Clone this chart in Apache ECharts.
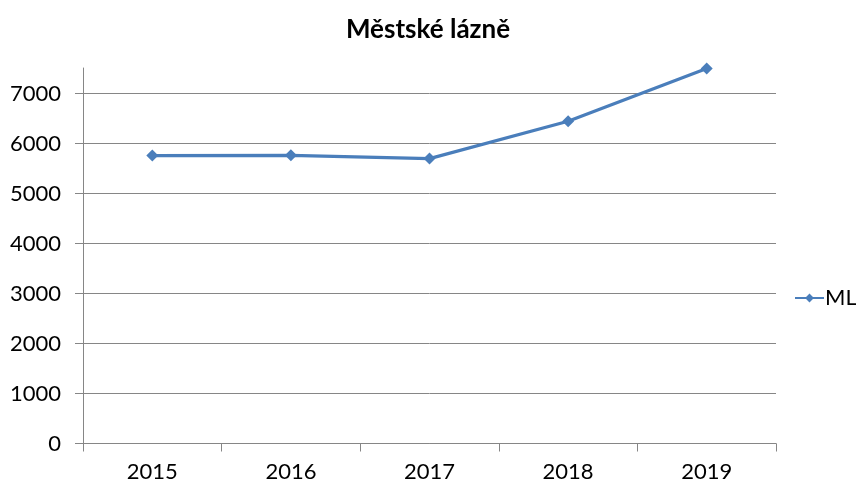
<!DOCTYPE html>
<html><head><meta charset="utf-8">
<script src="https://cdn.jsdelivr.net/npm/echarts@6/dist/echarts.min.js"></script>
<style>html,body{margin:0;padding:0;background:#fff}#c{width:856px;height:488px}</style>
</head><body><div id="c"></div>
<script>
const title = 'Městské lázně';
const seriesName = 'ML';
const categories = ['2015', '2016', '2017', '2018', '2019'];
const values = [5750, 5755, 5690, 6435, 7490];
const axisMax = 7500;
const tickMax = 7000;
const tickStep = 1000;

const FONT = 'Lato';
const chart = echarts.init(document.getElementById('c'), null, {renderer: 'canvas'});
const gridBase = {left: 83, right: 80, bottom: 44.5};
chart.setOption({
  animation: false,
  backgroundColor: '#fff',
  title: {text: title, left: 'center', top: 12,
    textStyle: {fontFamily: FONT, fontSize: 26, fontWeight: 'bold', color: '#000'}},
  legend: {data: [seriesName], left: 792, top: 285, itemWidth: 29, itemHeight: 11, itemGap: 4, padding: 2,
    textStyle: {fontFamily: FONT, fontSize: 22, color: '#000', padding: [0,0,0,-4]}},
  grid: [
    Object.assign({top: 68}, gridBase),
    Object.assign({top: 93.5}, gridBase)
  ],
  xAxis: [
    {type: 'category', data: categories, gridIndex: 0, boundaryGap: true,
      axisLine: {lineStyle: {color: '#868686', width: 1}},
      axisTick: {show: true, length: 8, lineStyle: {color: '#868686'}},
      axisLabel: {fontFamily: FONT, fontSize: 22, color: '#000', margin: 17}},
    {type: 'category', data: categories, gridIndex: 1, show: false}
  ],
  yAxis: [
    {type: 'value', gridIndex: 0, min: 0, max: axisMax, interval: tickStep,
      axisLine: {show: true, lineStyle: {color: '#868686'}},
      axisTick: {show: false}, axisLabel: {show: false}, splitLine: {show: false}},
    {type: 'value', gridIndex: 1, min: 0, max: tickMax, interval: tickStep,
      axisLine: {show: false},
      axisTick: {show: true, length: 8, lineStyle: {color: '#868686'}},
      axisLabel: {fontFamily: FONT, fontSize: 22, color: '#000', margin: 22,
        formatter: v => String(v)},
      splitLine: {show: true, lineStyle: {color: '#868686', width: 1}}}
  ],
  series: [{
    name: seriesName, type: 'line', data: values, xAxisIndex: 0, yAxisIndex: 0,
    symbol: 'diamond', symbolSize: 12, showAllSymbol: true,
    lineStyle: {color: '#4a7ebb', width: 3.2},
    itemStyle: {color: '#4a7ebb'}
  }]
});
</script></body></html>
